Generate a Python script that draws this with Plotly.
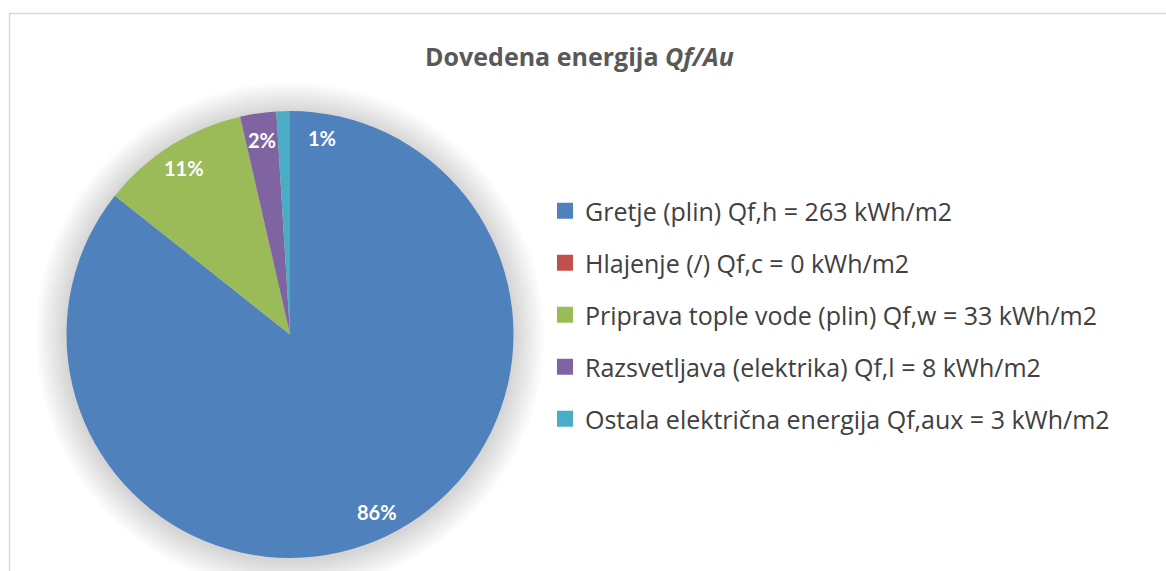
import math
import plotly.graph_objects as go

# Dovedena energija Qf/Au (kWh/m2)
LABELS = [
    "Gretje (plin) Qf,h = 263 kWh/m2",
    "Hlajenje (/) Qf,c = 0 kWh/m2",
    "Priprava tople vode (plin) Qf,w = 33 kWh/m2",
    "Razsvetljava (elektrika) Qf,l = 8 kWh/m2",
    "Ostala električna energija Qf,aux = 3 kWh/m2",
]
VALUES = [263, 0, 33, 8, 3]
PCT_LABELS = ["86%", "", "11%", "2%", "1%"]

COLORS = ["#4F81BD", "#C0504D", "#9BBB59", "#8064A2", "#4BACC6"]
FONT = "'Open Sans', sans-serif"
LABEL_FONT = "Lato, sans-serif"
W, H = 1166, 571

# pie placement (paper)
dom_x = [66.5 / W, 513.5 / W]
dom_y = [1 - 558 / H, 1 - 111 / H]

fig = go.Figure()

fig.add_trace(go.Pie(
    labels=LABELS,
    values=VALUES,
    marker=dict(colors=COLORS, line=dict(width=0)),
    sort=False,
    direction="clockwise",
    rotation=0,
    textinfo="none",
    showlegend=False,
    domain=dict(x=dom_x, y=dom_y),
    hovertemplate="%{label}<br>%{percent}<extra></extra>",
))

# legend entries (one per group so the row spacing can be set)
for name, col in zip(LABELS, COLORS):
    fig.add_trace(go.Scatter(
        x=[None], y=[None], mode="markers", name=name, legendgroup=name,
        marker=dict(symbol="square", size=16, color=col),
    ))

# centre / radius in pixels
cx = (dom_x[0] + dom_x[1]) / 2 * W
cy = (1 - (dom_y[0] + dom_y[1]) / 2) * H
R = min((dom_x[1] - dom_x[0]) * W, (dom_y[1] - dom_y[0]) * H) / 2

# soft shadow around the pie
shapes = []
for k in range(14, 0, -1):
    r = R + k * 2.2
    shapes.append(dict(
        type="circle", xref="paper", yref="paper", layer="below",
        x0=(cx - r) / W, x1=(cx + r) / W,
        y0=1 - (cy + 2 + r) / H, y1=1 - (cy + 2 - r) / H,
        fillcolor="rgba(0,0,0,0.013)", line=dict(width=0),
    ))
# chart frame
shapes.append(dict(
    type="rect", xref="paper", yref="paper",
    x0=9.5 / W, x1=1.01, y0=-0.01, y1=1 - 13.5 / H,
    line=dict(color="#D9D9D9", width=1.5), fillcolor="rgba(0,0,0,0)",
))

# percentage labels near the outer edge of each slice
annotations = []
total = sum(VALUES)
cum = 0
for i, (v, txt) in enumerate(zip(VALUES, PCT_LABELS)):
    mid = (cum + v / 2) / total * 2 * math.pi
    cum += v
    if not txt:
        continue
    px_ = cx + 0.89 * R * math.sin(mid)
    py_ = cy - 0.88 * R * math.cos(mid)
    annotations.append(dict(
        x=px_ / W, y=1 - py_ / H, xref="paper", yref="paper",
        xanchor="center", yanchor="middle",
        text=f"<b>{txt}</b>", showarrow=False,
        xshift=38 if i == len(VALUES) - 1 else 0,
        font=dict(family=LABEL_FONT, size=20, color="#FFFFFF"),
    ))

fig.update_layout(
    width=W, height=H,
    paper_bgcolor="#FFFFFF", plot_bgcolor="#FFFFFF",
    margin=dict(l=0, r=0, t=0, b=0),
    title=dict(
        text="<b>Dovedena energija <i>Qf/Au</i></b>",
        x=0.497, xanchor="center", y=1 - 57 / H, yanchor="middle",
        font=dict(family=FONT, size=25, color="#595959"),
    ),
    xaxis=dict(visible=False), yaxis=dict(visible=False),
    showlegend=True,
    legend=dict(
        x=545 / W, xanchor="left", y=1 - 188 / H, yanchor="top",
        font=dict(family=FONT, size=25, color="#404040"),
        tracegroupgap=16.5, bgcolor="rgba(0,0,0,0)",
    ),
    shapes=shapes,
    annotations=annotations,
)

fig.write_html(
    "out.html",
    config={"displayModeBar": False},
    post_script="document.body.style.margin='0';",
)
